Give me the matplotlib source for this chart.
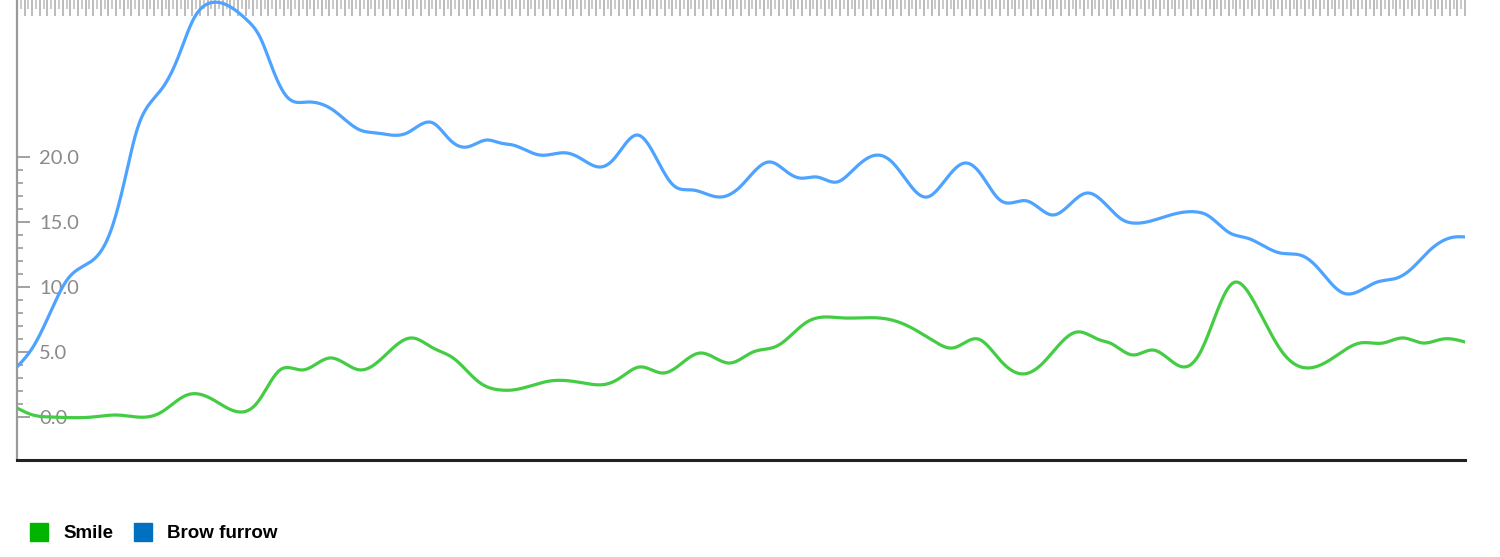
import numpy as np
import matplotlib
matplotlib.use("Agg")
import matplotlib.pyplot as plt
from matplotlib.ticker import MultipleLocator, FixedLocator
from matplotlib.lines import Line2D

# ---- data (time in seconds, value) ----
brow_t = [0, 1.05, 2.17, 3.28, 3.94, 4.99, 6.10, 6.96, 7.87, 8.73, 9.58, 10.50, 11.55, 12.66,
          13.78, 15.09, 15.94, 16.80, 17.72, 19.03, 20.73, 22.50, 23.62, 25.59, 27.29, 28.41,
          29.52, 30.84, 31.69, 32.54, 34.31, 36.08, 36.94, 38.25, 39.10, 40.74, 41.53, 43.04,
          44.35, 46.12, 47.43, 49.40, 50.52, 51.37, 52.49, 53.80, 54.85, 56.42, 57.47, 59.70,
          60.75, 62.20, 63.18, 64.49, 65.15, 66.26, 67.97, 70.20, 72.56, 73.22, 75.45, 77.42,
          78.07, 79.58, 80.70, 82.86, 84.37, 85.29, 87.00, 89.23, 90.54, 91.40, 92.71, 94.34, 95.0]
brow_v = [3.85, 5.38, 8.0, 10.54, 11.31, 12.08, 14.15, 17.69, 22.08, 24.15, 25.38, 27.46, 30.54, 31.85,
          31.69, 30.54, 29.23, 26.69, 24.62, 24.23, 23.62, 22.08, 21.85, 21.85, 22.62, 21.31,
          20.77, 21.31, 21.08, 20.92, 20.15, 20.31, 19.92, 19.23, 19.77, 21.69, 20.77, 17.85,
          17.46, 16.92, 17.69, 19.62, 18.85, 18.38, 18.46, 18.08, 19.0, 20.15, 19.54, 16.92,
          18.0, 19.54, 18.77, 16.69, 16.46, 16.62, 15.54, 17.23, 15.15, 14.92, 15.46, 15.77,
          15.54, 14.15, 13.77, 12.62, 12.38, 11.54, 9.54, 10.38, 10.69, 11.31, 12.85, 13.85, 13.85]

smile_t = [0, 1.05, 2.17, 4.99, 6.56, 8.53, 9.38, 11.15, 12.66, 14.63, 15.75, 17.26, 18.76, 20.54,
           22.50, 23.82, 25.92, 27.29, 28.61, 30.38, 31.69, 32.54, 34.97, 37.14, 38.71, 39.56,
           40.87, 42.38, 43.30, 44.81, 46.78, 48.29, 49.86, 51.83, 54.19, 57.08, 58.59, 60.36,
           61.41, 63.05, 64.49, 66.0, 67.31, 69.54, 71.05, 71.71, 73.22, 74.53, 76.63, 77.61,
           79.78, 81.09, 83.06, 84.63, 86.34, 88.11, 89.62, 90.93, 92.24, 93.56, 95.0]
smile_v = [0.69, 0.15, 0.0, 0.0, 0.15, 0.0, 0.31, 1.69, 1.46, 0.38, 1.08, 3.62, 3.62, 4.54,
           3.62, 4.38, 6.08, 5.31, 4.54, 2.62, 2.08, 2.08, 2.77, 2.62, 2.54, 3.0,
           3.85, 3.38, 3.85, 4.92, 4.15, 5.0, 5.46, 7.31, 7.62, 7.54, 6.92, 5.69,
           5.31, 6.0, 4.38, 3.31, 4.15, 6.54, 5.92, 5.69, 4.77, 5.15, 3.85, 4.92,
           10.31, 9.0, 4.92, 3.77, 4.54, 5.69, 5.69, 6.08, 5.69, 6.0, 5.77]

y_ticks = [0, 5, 10, 15, 20]
y_tick_labels = ["0.0", "5.0", "10.0", "15.0", "20.0"]
series_names = ["Smile", "Brow furrow"]
legend_colors = ["#00b400", "#0070c0"]
line_colors = ["#44cc44", "#4da3ff"]


def smooth(t, v, n=20):
    """Natural cubic spline through the given points (drawing only)."""
    t = np.asarray(t, float)
    v = np.asarray(v, float)
    N = len(t)
    h = np.diff(t)
    A = np.zeros((N, N))
    r = np.zeros(N)
    A[0, 0] = 1.0
    A[-1, -1] = 1.0
    for i in range(1, N - 1):
        A[i, i - 1] = h[i - 1]
        A[i, i] = 2 * (h[i - 1] + h[i])
        A[i, i + 1] = h[i]
        r[i] = 6 * ((v[i + 1] - v[i]) / h[i] - (v[i] - v[i - 1]) / h[i - 1])
    M = np.linalg.solve(A, r)
    xs, ys = [], []
    for i in range(N - 1):
        s = np.linspace(t[i], t[i + 1], n, endpoint=False)
        a = t[i + 1] - s
        b = s - t[i]
        y = (M[i] * a**3 + M[i + 1] * b**3) / (6 * h[i]) \
            + (v[i] / h[i] - M[i] * h[i] / 6) * a \
            + (v[i + 1] / h[i] - M[i + 1] * h[i] / 6) * b
        xs.append(s)
        ys.append(y)
    xs.append([t[-1]])
    ys.append([v[-1]])
    return np.concatenate(xs), np.concatenate(ys)


fig = plt.figure(figsize=(15, 5.57), dpi=100)
ax = fig.add_axes([17 / 1500, 1 - 460 / 557, (1465 - 17) / 1500, 460 / 557])

sx, sy = smooth(smile_t, smile_v)
bx, by = smooth(brow_t, brow_v)
ax.plot(sx, sy, color=line_colors[0], lw=2.3, solid_capstyle="round", zorder=3)
ax.plot(bx, by, color=line_colors[1], lw=2.3, solid_capstyle="round", zorder=3)

ax.set_xlim(0, 95)
ax.set_ylim(-3.31, 32.08)

for s in ["top", "right"]:
    ax.spines[s].set_visible(False)
ax.spines["left"].set_color("#9a9a9a")
ax.spines["left"].set_linewidth(1.6)
ax.spines["bottom"].set_color("#222222")
ax.spines["bottom"].set_linewidth(2.2)

# top ruler ticks
ax.xaxis.tick_top()
ax.xaxis.set_major_locator(MultipleLocator(0.5))
ax.xaxis.set_minor_locator(MultipleLocator(0.25))
ax.tick_params(axis="x", which="major", direction="in", length=11.5, width=1.2,
               color="#b0b0b0", labeltop=False, labelbottom=False)
ax.tick_params(axis="x", which="minor", direction="in", length=6.5, width=1.2,
               color="#c0c0c0")

# y ticks
ax.yaxis.set_major_locator(FixedLocator(y_ticks))
ax.yaxis.set_minor_locator(FixedLocator(list(range(0, 21))))
ax.set_yticklabels(y_tick_labels)
ax.tick_params(axis="y", which="major", direction="in", length=9.5, width=1.3,
               color="#9a9a9a", pad=-16.0, labelsize=14.5, labelcolor="#8a8a8a")
ax.tick_params(axis="y", which="minor", direction="in", length=4.5, width=1.2,
               color="#9a9a9a")
for lbl in ax.get_yticklabels():
    lbl.set_horizontalalignment("left")
    lbl.set_fontfamily("Lato")

# legend
handles = [Line2D([], [], ls="none", marker="s", markersize=13.5, color=c,
                  markeredgecolor=c) for c in legend_colors]
fig.legend(handles, series_names, loc="lower left", bbox_to_anchor=(13 / 1500, -0.004),
           ncol=2, frameon=False, handlelength=1.0, handletextpad=0.8,
           columnspacing=1.05, prop={"family": "Liberation Sans", "weight": "bold", "size": 13.5})

fig.savefig("out.png", dpi=100)
